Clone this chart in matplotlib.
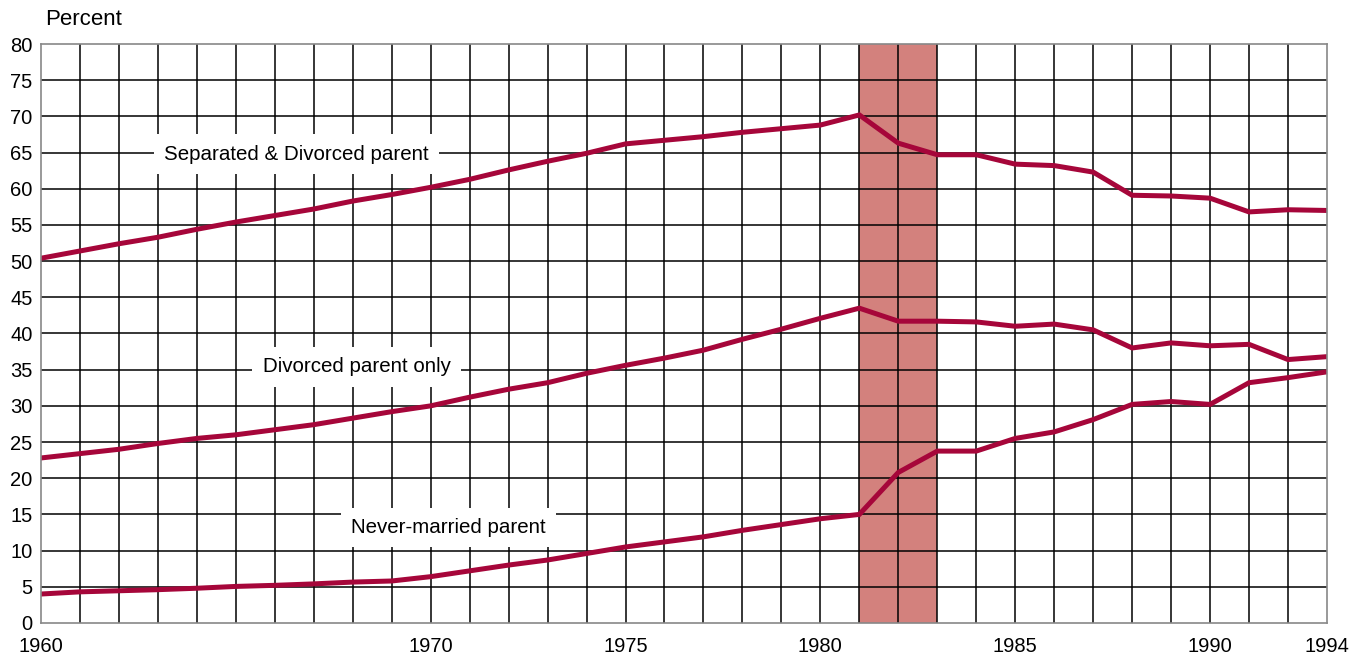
import matplotlib.pyplot as plt
import numpy as np

plt.rcParams["font.family"] = ["Liberation Sans", "DejaVu Sans"]

# one value per grid column (1960 ... 1994 as drawn in the source chart)
sep_div = [50.4, 51.4, 52.4, 53.3, 54.4, 55.4, 56.3, 57.2, 58.3, 59.2,
           60.2, 61.3, 62.6, 63.8, 64.9, 66.2, 66.7, 67.2, 67.8, 68.3,
           68.8, 70.2, 66.3, 64.7, 64.7, 63.4, 63.2, 62.3, 59.1, 59.0,
           58.7, 56.8, 57.1, 57.0]
div_only = [22.8, 23.4, 24.0, 24.8, 25.5, 26.0, 26.7, 27.4, 28.3, 29.2,
            30.0, 31.2, 32.3, 33.2, 34.5, 35.6, 36.6, 37.7, 39.2, 40.6,
            42.1, 43.5, 41.7, 41.7, 41.6, 41.0, 41.3, 40.5, 38.0, 38.7,
            38.3, 38.5, 36.4, 36.8]
never_married = [4.0, 4.3, 4.45, 4.6, 4.8, 5.05, 5.2, 5.4, 5.65, 5.8,
                 6.4, 7.2, 8.0, 8.7, 9.6, 10.5, 11.2, 11.9, 12.8, 13.6,
                 14.4, 15.0, 20.8, 23.75, 23.75, 25.5, 26.4, 28.1, 30.2, 30.6,
                 30.2, 33.2, 33.9, 34.7]
tick_cols = [0, 10, 15, 20, 25, 30, 33]
tick_labels = ["1960", "1970", "1975", "1980", "1985", "1990", "1994"]
shade_cols = (21, 23)

x = np.arange(len(sep_div))
red = "#a6063a"

fig = plt.figure(figsize=(13.61, 6.57), dpi=100)
ax = fig.add_axes([0.0301, 0.0518, 0.975 - 0.0301, 0.933 - 0.0518])

ax.axvspan(shade_cols[0], shade_cols[1], color="#d3817d", zorder=1, lw=0)

for c in x[1:-1]:
    ax.axvline(c, color="black", lw=1.1, zorder=2)
for v in range(5, 80, 5):
    ax.axhline(v, color="black", lw=1.1, zorder=2)

ax.plot(x, sep_div, color=red, lw=3.6, zorder=4, solid_joinstyle="miter")
ax.plot(x, div_only, color=red, lw=3.6, zorder=4, solid_joinstyle="miter")
ax.plot(x, never_married, color=red, lw=3.6, zorder=4, solid_joinstyle="miter")

box = dict(facecolor="white", edgecolor="none", boxstyle="square,pad=0.5")
ax.text(6.55, 64.8, "Separated & Divorced parent", fontsize=14.8, ha="center", va="center", bbox=box, zorder=3)
ax.text(8.1, 35.4, "Divorced parent only", fontsize=14.8, ha="center", va="center", bbox=box, zorder=3)
ax.text(10.45, 13.2, "Never-married parent", fontsize=14.8, ha="center", va="center", bbox=box, zorder=3)

ax.set_xlim(0, len(sep_div) - 1)
ax.set_ylim(0, 80)
ax.set_yticks(range(0, 81, 5))
ax.set_xticks(tick_cols)
ax.set_xticklabels(tick_labels)
ax.tick_params(length=0, labelsize=14.5)
ax.tick_params(axis="x", pad=10)
ax.tick_params(axis="y", pad=6)
for s in ax.spines.values():
    s.set_color("#888888")
    s.set_linewidth(1.2)
    s.set_zorder(5)

fig.text(0.033, 0.97, "Percent", fontsize=16, va="center", ha="left")

plt.savefig("out.png", dpi=100)
